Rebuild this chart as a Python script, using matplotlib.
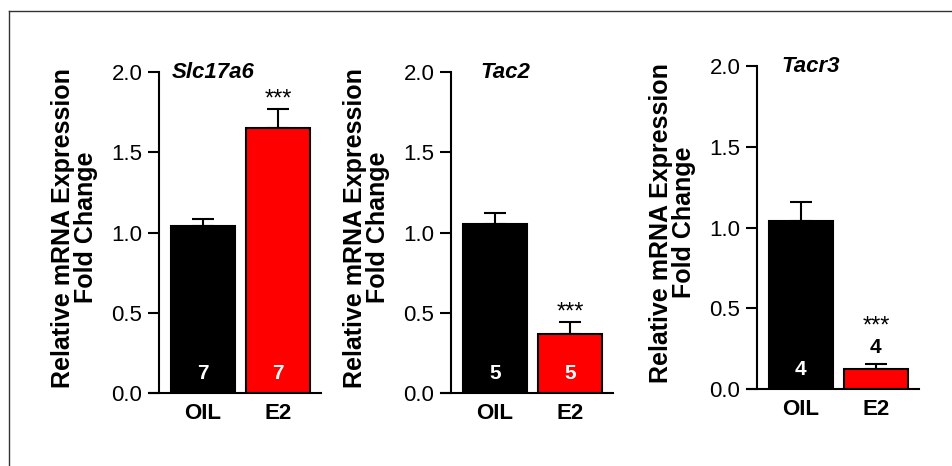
import numpy as np
import matplotlib
matplotlib.use('Agg')
import matplotlib.pyplot as plt
from matplotlib.lines import Line2D

plt.rcParams['font.family'] = ['Liberation Sans', 'DejaVu Sans']

genes = ['Slc17a6', 'Tac2', 'Tacr3']
groups = ['OIL', 'E2']
means = [[1.04, 1.65], [1.05, 0.37], [1.04, 0.125]]
sems = [[0.045, 0.12], [0.07, 0.075], [0.12, 0.03]]
n_counts = [[7, 7], [5, 5], [4, 4]]
signif = ['***', '***', '***']
ylabel = 'Relative mRNA Expression\nFold Change'

W, H = 952, 466
fig = plt.figure(figsize=(W / 100, H / 100), dpi=100)

# axes boxes in pixels: spine x, y of 0.0, y of 2.0
spines_px = [159, 451, 757]
bottoms_px = [393, 393, 389]
tops_px = [72, 72, 66]
ppu = 75  # pixels per x unit
xmin, xmax, xspine = -0.72, 1.57, -0.585

for i, gene in enumerate(genes):
    left = spines_px[i] + (xmin - xspine) * ppu
    width = (xmax - xmin) * ppu
    ax = fig.add_axes([left / W, 1 - bottoms_px[i] / H, width / W,
                       (bottoms_px[i] - tops_px[i]) / H])
    x = np.arange(len(groups))
    ax.errorbar(x, means[i], yerr=[np.zeros(2), sems[i]], fmt='none',
                ecolor='black', elinewidth=1.5, capsize=8, capthick=1.5, zorder=1)
    ax.bar(x, means[i], width=0.86, color=['black', '#ff0000'],
           edgecolor='black', linewidth=1.5, zorder=2)
    ax.set_xlim(xmin, xmax)
    ax.set_ylim(0, 2.0)
    ax.set_yticks([0, 0.5, 1.0, 1.5, 2.0])
    ax.set_yticklabels(['0.0', '0.5', '1.0', '1.5', '2.0'])
    ax.set_xticks(x)
    ax.set_xticklabels(groups, fontweight='bold', fontsize=16)
    ax.tick_params(axis='x', length=0, pad=7)
    ax.tick_params(axis='y', length=8, width=1.5, labelsize=16, pad=4)
    for s in ['top', 'right']:
        ax.spines[s].set_visible(False)
    ax.spines['left'].set_position(('data', xspine))
    ax.spines['left'].set_linewidth(1.5)
    ax.spines['bottom'].set_linewidth(1.5)
    ax.patch.set_alpha(0)
    ax.set_ylabel(ylabel, fontweight='bold', fontsize=18, linespacing=0.95)
    ax.yaxis.set_label_coords((spines_px[i] - 61 - left) / width, 0.515)
    ax.text(0.135, 2.0, gene, fontstyle='italic', fontweight='bold',
            fontsize=16, ha='center', va='center')

    # n numbers
    if i < 2:
        for j in range(2):
            ax.text(x[j], 0.12, str(n_counts[i][j]), color='white',
                    fontweight='bold', fontsize=15, ha='center', va='center')
        star_y = means[i][1] + sems[i][1] + 0.02
    else:
        ax.text(x[0], 0.12, str(n_counts[i][0]), color='white',
                fontweight='bold', fontsize=15, ha='center', va='center')
        ax.text(x[1], 0.255, str(n_counts[i][1]), color='black',
                fontweight='bold', fontsize=15, ha='center', va='center')
        star_y = 0.35
    ax.text(x[1], star_y, signif[i], fontsize=17, ha='center', va='baseline')

# frame lines (top and left)
fig.add_artist(Line2D([9 / W, 1], [1 - 11 / H, 1 - 11 / H], color='#333333', lw=1))
fig.add_artist(Line2D([9 / W, 9 / W], [0, 1 - 11 / H], color='#333333', lw=1))

fig.savefig('out.png', dpi=100)
